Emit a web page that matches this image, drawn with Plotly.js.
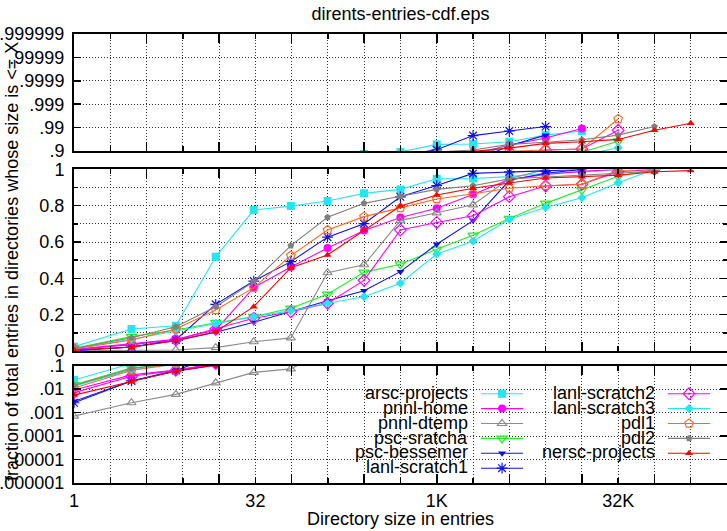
<!DOCTYPE html>
<html><head><meta charset="utf-8">
<script src="https://cdn.plot.ly/plotly-3.0.1.min.js"></script>
<style>html,body{margin:0;padding:0;background:#fff}#chart{width:727px;height:531px}</style>
</head><body><div id="chart"></div>
<script>
// ---- data (cumulative fraction of entries in directories with size <= X) ----
const dirSizes      = [1,3,7,15,31,63,127,255,511,1023,2047,4095,8191,16383,32767,65535,131071];
const arscProjects  = [0.024,0.121,0.139,0.519,0.776,0.798,0.826,0.868,0.890,0.948,0.950,0.960,0.979,0.986,1];
const pnnlHome      = [0.009,0.040,0.064,0.116,0.349,0.462,0.567,0.664,0.735,0.786,0.862,0.945,0.972,0.989,1];
const pnnlDtemp     = [0.0007,0.0026,0.0059,0.0184,0.051,0.072,0.431,0.475,0.718,0.761,0.805,0.948,1];
const pscSratcha    = [0.015,0.079,0.116,0.156,0.189,0.235,0.312,0.433,0.478,0.560,0.637,0.729,0.813,0.887,0.962,1];
const pscBessemer   = [0.003,0.022,0.057,0.103,0.158,0.220,0.277,0.332,0.437,0.588,0.718,0.940,0.979,1];
const lanlScratch1  = [0.0026,0.022,0.062,0.257,0.385,0.492,0.627,0.701,0.849,0.911,0.978,0.986,0.991,1];
const lanlScratch2  = [0.007,0.035,0.062,0.121,0.180,0.216,0.263,0.389,0.666,0.708,0.745,0.850,0.909,0.918,0.987,1];
const lanlScratch3  = [0.013,0.065,0.110,0.152,0.189,0.222,0.263,0.299,0.373,0.534,0.604,0.725,0.790,0.844,0.927,1];
const pdl1          = [0.011,0.061,0.121,0.226,0.349,0.525,0.666,0.740,0.788,0.837,0.866,0.896,0.910,0.918,0.9957,1];
const pdl2          = [0.014,0.073,0.134,0.244,0.382,0.580,0.736,0.813,0.852,0.890,0.910,0.948,0.958,0.967,0.979,0.991];
const nerscProjects = [0.0055,0.021,0.058,0.106,0.244,0.459,0.529,0.666,0.798,0.859,0.896,0.925,0.953,0.960,0.968,0.987,0.9935];

const seriesNames = ['arsc-projects','pnnl-home','pnnl-dtemp','psc-sratcha','psc-bessemer','lanl-scratch1',
                     'lanl-scratch2','lanl-scratch3','pdl1','pdl2','nersc-projects'];
const seriesValues = [arscProjects,pnnlHome,pnnlDtemp,pscSratcha,pscBessemer,lanlScratch1,
                      lanlScratch2,lanlScratch3,pdl1,pdl2,nerscProjects];

// tick labels
const xTickValues = [1,32,1024,32768];
const xTickLabels = ['1','32','1K','32K'];
const topTickValues = [10,100,1000,10000,100000,1000000];
const topTickLabels = ['.9','.99','.999','.9999','.99999','.999999'];
const midTickValues = [0,0.2,0.4,0.6,0.8,1];
const midTickLabels = ['0','0.2','0.4','0.6','0.8','1'];
const botTickValues = [1e-6,1e-5,1e-4,1e-3,1e-2,1e-1];
const botTickLabels = ['.000001','.00001','.0001','.001','.01','.1'];

// ---- styles ----
const colors  = ['#22e6f0','#ff00ff','#8c8c8c','#22ee22','#1010ee','#1010ee','#ff00ff','#22e6f0','#ff6a22','#7f7f7f','#ff0000'];
const symbols = ['square','circle','triangle-up-open','triangle-down-open','triangle-down','asterisk-open',
                 'diamond-open-dot','diamond','pentagon-open','pentagon','triangle-up'];
const msizes  = [8,8,8,9,7,9,9,7,9,7,7];

const FONT = 'Liberation Sans Narrow, Arial Narrow, Liberation Sans, Arial, sans-serif';
const FS = 18;

// plot-area geometry (pixels) for placing legend entries
const L = 74, T = 34, W = 653, H = 449;
const px = v => (v - L) / W;
const py = v => (T + H - v) / H;

const traces = [];
const layout = {
  width: 727, height: 531,
  margin: {l: L, r: 0, t: T, b: 531 - T - H},
  paper_bgcolor: '#fff', plot_bgcolor: '#fff',
  font: {family: FONT, size: FS, color: '#000'},
  title: {text: 'dirents-entries-cdf.eps', x: 0.5, xref: 'paper', xanchor: 'center',
          y: 1 - 14/531, yref: 'container', yanchor: 'middle', font: {family: FONT, size: FS, color: '#000'}},
  showlegend: true,
  annotations: [
    {text: 'fraction of total entries in directories whose size is <= X', textangle: -90,
     xref: 'paper', yref: 'paper', x: px(12), y: py(262), xanchor: 'center', yanchor: 'middle',
     showarrow: false, font: {family: FONT, size: FS, color: '#000'}},
    {text: 'Directory size in entries', xref: 'paper', yref: 'paper', x: 0.5, y: py(519),
     xanchor: 'center', yanchor: 'middle', showarrow: false, font: {family: FONT, size: FS, color: '#000'}}
  ],
  shapes: [
    {type: 'rect', xref: 'paper', yref: 'paper', x0: px(347), x1: px(720), y0: py(476), y1: py(387),
     fillcolor: '#fff', line: {width: 0}, layer: 'between'}
  ]
};

// axes
const pow2 = [], pow4 = [];
for (let k = 0; k <= 18; k++) { pow2.push(Math.pow(2, k)); if (k % 2 === 0) pow4.push(Math.pow(2, k)); }
const xText = pow2.map(v => { const i = xTickValues.indexOf(v); return i >= 0 ? xTickLabels[i] : ''; });
const gridStyle = {showgrid: true, gridcolor: '#333', griddash: '1px,2px', gridwidth: 1};
const axCommon = Object.assign({showline: true, linewidth: 2, linecolor: '#000', mirror: 'ticks',
  ticks: 'inside', tickcolor: '#000', tickwidth: 1.5, zeroline: false, fixedrange: true}, gridStyle);
const xr = [0, Math.log10(262144)];
const yStand = 4;
const xMain = {type: 'log', range: xr, tickmode: 'array', tickvals: pow2, ticktext: xText, ticklen: 5};
layout.xaxis  = Object.assign({}, axCommon, xMain, {anchor: 'y'});
layout.xaxis2 = Object.assign({}, axCommon, xMain, {anchor: 'y2', showticklabels: false});
layout.xaxis3 = Object.assign({}, axCommon, xMain, {anchor: 'y3', showticklabels: false});
// longer tick marks at every power of four (overlay axes, ticks only)
const xLong = {type: 'log', range: xr, tickmode: 'array', tickvals: pow4, ticks: 'inside', ticklen: 9,
  tickwidth: 1.5, tickcolor: '#000', showticklabels: false, showgrid: false, showline: false,
  zeroline: false, mirror: 'ticks', fixedrange: true};
layout.xaxis4 = Object.assign({}, xLong, {anchor: 'y',  overlaying: 'x'});
layout.xaxis5 = Object.assign({}, xLong, {anchor: 'y2', overlaying: 'x2'});
layout.xaxis6 = Object.assign({}, xLong, {anchor: 'y3', overlaying: 'x3'});
layout.yaxis  = Object.assign({}, axCommon, {type: 'log', range: [-6, -1], domain: [0, py(365.5)], anchor: 'x',
  tickmode: 'array', tickvals: botTickValues, ticktext: botTickLabels, ticklen: 7, ticklabelstandoff: yStand});
layout.yaxis2 = Object.assign({}, axCommon, {type: 'linear', range: [0, 1], domain: [py(351), py(169.4)], anchor: 'x2',
  tickmode: 'array', tickvals: midTickValues, ticktext: midTickLabels, ticklen: 7, ticklabelstandoff: yStand,
  minor: Object.assign({dtick: 0.1, ticks: 'inside', ticklen: 4, tickcolor: '#000'}, gridStyle)});
layout.yaxis3 = Object.assign({}, axCommon, {type: 'log', range: [1, 6], domain: [py(151), 1], anchor: 'x3',
  tickmode: 'array', tickvals: topTickValues, ticktext: topTickLabels, ticklen: 7, ticklabelstandoff: yStand});

// empty carriers so the tick-only overlay axes are drawn
[['x4','y'],['x5','y2'],['x6','y3']].forEach(([xa, ya]) => {
  traces.push({type: 'scatter', mode: 'lines', x: [], y: [], xaxis: xa, yaxis: ya, showlegend: false, hoverinfo: 'skip'});
});

// traces: one per series per panel
seriesNames.forEach((name, i) => {
  const vals = seriesValues[i];
  const xs = dirSizes.slice(0, vals.length);
  const open = symbols[i].indexOf('open') >= 0;
  const marker = {symbol: symbols[i], size: msizes[i], color: colors[i],
                  line: {color: colors[i], width: open ? 1.2 : 0}};
  const line = {color: colors[i], width: 1.1};
  const legendId = i === 0 ? 'legend' : 'legend' + (i + 1);
  // top panel: -log scale of (1 - p)
  traces.push({type: 'scatter', mode: 'lines+markers', name: name, x: xs,
    y: vals.map(p => p < 1 ? 1 / (1 - p) : null), xaxis: 'x3', yaxis: 'y3',
    line: line, marker: marker, showlegend: false, hoverinfo: 'skip'});
  // middle panel: linear
  traces.push({type: 'scatter', mode: 'lines+markers', name: '', x: xs, y: vals,
    xaxis: 'x2', yaxis: 'y2', line: line, marker: marker, showlegend: true, legend: legendId, hoverinfo: 'skip'});
  // bottom panel: log
  traces.push({type: 'scatter', mode: 'lines+markers', name: name, x: xs,
    y: vals.map(p => p > 0 ? p : null), xaxis: 'x', yaxis: 'y',
    line: line, marker: marker, showlegend: false, hoverinfo: 'skip'});
  // legend entry: label on the left, sample on the right
  const col = i < 6 ? 0 : 1, row = i < 6 ? i : i - 6;
  const symX = col === 0 ? 503 : 690;
  layout[legendId] = {
    x: px(symX + 31), xanchor: 'right', y: py(394 + 14.9 * row), yanchor: 'middle',
    bgcolor: 'rgba(0,0,0,0)', borderwidth: 0, itemwidth: 42, itemclick: false, itemdoubleclick: false,
    title: {text: name, side: 'left', font: {family: FONT, size: FS, color: '#000'}},
    font: {family: FONT, size: FS, color: '#000'}
  };
});

Plotly.newPlot('chart', traces, layout, {staticPlot: true, displayModeBar: false});
</script></body></html>
